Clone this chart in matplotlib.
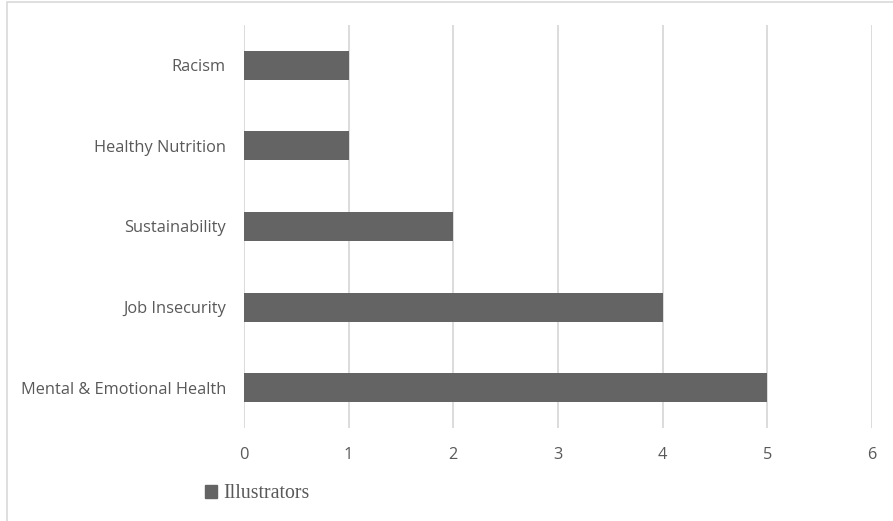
import matplotlib
matplotlib.use("Agg")
import matplotlib.pyplot as plt
from matplotlib.patches import Rectangle, Patch

categories = ["Mental & Emotional Health", "Job Insecurity", "Sustainability",
              "Healthy Nutrition", "Racism"]
values = [5, 4, 2, 1, 1]
series_name = "Illustrators"
xticks = [0, 1, 2, 3, 4, 5, 6]

text_col = "#595959"
bar_col = "#646464"
grid_col = "#d9d9d9"

fig = plt.figure(figsize=(8.93, 5.21), dpi=100)
ax = fig.add_axes([244 / 893, 1 - 428 / 521, 628 / 893, 403 / 521])

ax.barh(range(len(categories)), values, height=0.36, color=bar_col, zorder=3)
ax.set_xlim(0, 6)
ax.set_ylim(-0.5, len(categories) - 0.5)
ax.set_xticks(xticks)
ax.set_xticklabels([str(t) for t in xticks])
ax.set_yticks(range(len(categories)))
ax.set_yticklabels(categories)
ax.grid(axis="x", color=grid_col, linewidth=1.3, zorder=0)
for s in ax.spines.values():
    s.set_visible(False)
ax.tick_params(length=0, labelsize=11.8, labelcolor=text_col)
ax.tick_params(axis="x", pad=14)
ax.tick_params(axis="y", pad=13)
for lab in ax.get_xticklabels() + ax.get_yticklabels():
    lab.set_family("Open Sans")

leg = fig.legend(handles=[Patch(color=bar_col, label=series_name)],
                 loc="center left", bbox_to_anchor=(205 / 893, 1 - 494 / 521),
                 frameon=False, handlelength=0.6, handleheight=0.6,
                 handletextpad=0.3, borderaxespad=0, borderpad=0,
                 prop={"family": "Liberation Serif", "size": 14.3},
                 labelcolor=text_col)

# outer chart border
fig.patches.append(Rectangle((7 / 893, -0.1), 1.1, 1 - 2 / 521 + 0.1,
                             transform=fig.transFigure, fill=False,
                             edgecolor=grid_col, linewidth=1.2))

fig.savefig("out.png", dpi=100)
